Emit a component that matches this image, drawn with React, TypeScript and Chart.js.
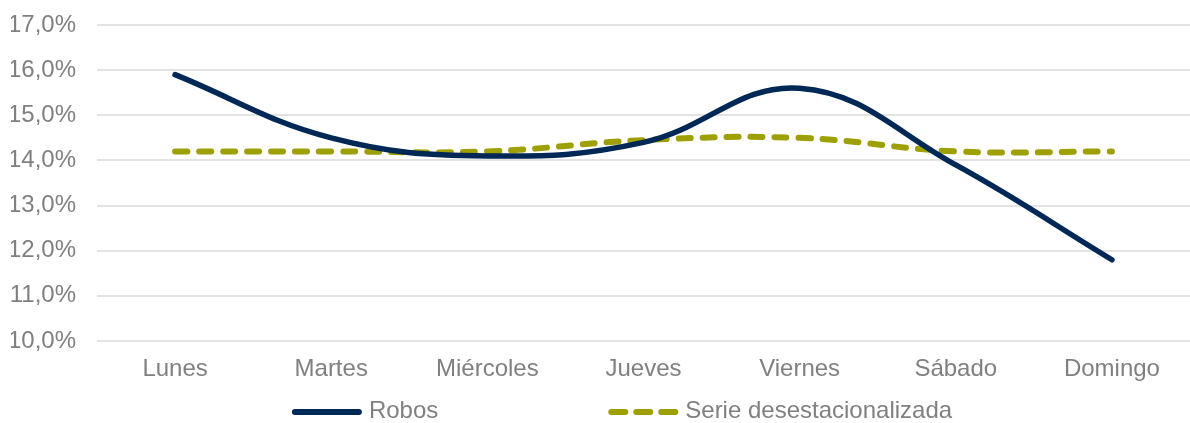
import React, { useEffect, useRef } from "react";
import { Chart, registerables } from "chart.js";

Chart.register(...registerables);

const categories = ["Lunes", "Martes", "Miércoles", "Jueves", "Viernes", "Sábado", "Domingo"];
const robos = [15.9, 14.5, 14.1, 14.4, 15.6, 13.9, 11.8];
const serieDesest = [14.2, 14.2, 14.2, 14.45, 14.5, 14.2, 14.2];
const seriesLabels = ["Robos", "Serie desestacionalizada"];
const yMin = 10;
const yMax = 17;
const yStep = 1;

const FONT = "'Liberation Sans', Arial, sans-serif";
const FONT_SIZE = 24;
const TEXT_COLOR = "#808080";
const NAVY = "#002856";
const OLIVE = "#9e9f00";

const legendPlugin = {
  id: "customLegend",
  afterDraw(chart: any) {
    const ctx = chart.ctx;
    ctx.save();
    ctx.font = `${FONT_SIZE}px ${FONT}`;
    ctx.textBaseline = "middle";
    ctx.textAlign = "left";
    const y = 411;
    const sample = 70;
    const gapText = 7;
    const gapItems = 170;
    const w1 = ctx.measureText(seriesLabels[0]).width;
    const w2 = ctx.measureText(seriesLabels[1]).width;
    const total = sample + gapText + w1 + gapItems + sample + gapText + w2;
    let x = 622 - total / 2;
    const datasets = chart.data.datasets;
    const dashes = [[], [14, 11]];
    for (let i = 0; i < 2; i++) {
      const ds = datasets[i];
      ctx.strokeStyle = ds.borderColor;
      ctx.lineWidth = 6;
      ctx.lineCap = "round";
      ctx.setLineDash(dashes[i]);
      ctx.beginPath();
      ctx.moveTo(x + 3, y + 1);
      ctx.lineTo(x + sample - 3, y + 1);
      ctx.stroke();
      ctx.setLineDash([]);
      x += sample + gapText;
      ctx.fillStyle = TEXT_COLOR;
      ctx.fillText(ds.label, x, y);
      x += (i === 0 ? w1 : w2) + gapItems;
    }
    ctx.restore();
  },
};

export default function App() {
  const ref = useRef<HTMLCanvasElement | null>(null);
  useEffect(() => {
    document.body.style.margin = "0";
    if (!ref.current) return;
    const chart = new Chart(ref.current, {
      type: "line",
      data: {
        labels: categories,
        datasets: [
          {
            label: seriesLabels[0],
            data: robos,
            borderColor: NAVY,
            backgroundColor: NAVY,
            borderWidth: 5.5,
            tension: 0.4,
            pointRadius: 0,
            borderCapStyle: "round",
            borderJoinStyle: "round",
            fill: false,
          },
          {
            label: seriesLabels[1],
            data: serieDesest,
            borderColor: OLIVE,
            backgroundColor: OLIVE,
            borderWidth: 6,
            borderDash: [12, 12],
            tension: 0.4,
            pointRadius: 0,
            borderCapStyle: "round",
            fill: false,
          },
        ],
      },
      options: {
        animation: false,
        responsive: false,
        layout: { padding: { left: 11, top: 25, right: 0, bottom: 40 } },
        plugins: {
          legend: { display: false },
          tooltip: { enabled: false },
          title: { display: false },
        },
        scales: {
          x: {
            offset: true,
            grid: { display: false, drawTicks: false },
            border: { display: false },
            ticks: {
              color: TEXT_COLOR,
              font: { family: FONT, size: FONT_SIZE },
              padding: 14,
              maxRotation: 0,
              autoSkip: false,
            },
            afterFit: (s: any) => {
              s.height = 42;
              s.paddingLeft = 0;
              s.paddingRight = 0;
            },
          },
          y: {
            min: yMin,
            max: yMax,
            grid: { color: "#e3e3e3", lineWidth: 2, drawTicks: false },
            border: { display: false },
            ticks: {
              stepSize: yStep,
              color: TEXT_COLOR,
              font: { family: FONT, size: FONT_SIZE },
              padding: 21,
              callback: (v: any) => Number(v).toFixed(1).replace(".", ",") + "%",
            },
            afterFit: (s: any) => {
              s.width = 86;
              s.paddingTop = 0;
              s.paddingBottom = 0;
            },
          },
        },
      },
      plugins: [legendPlugin],
    });
    return () => chart.destroy();
  }, []);
  return (
    <div style={{ width: 1190, height: 423 }}>
      <canvas ref={ref} width={1190} height={423} />
    </div>
  );
}
